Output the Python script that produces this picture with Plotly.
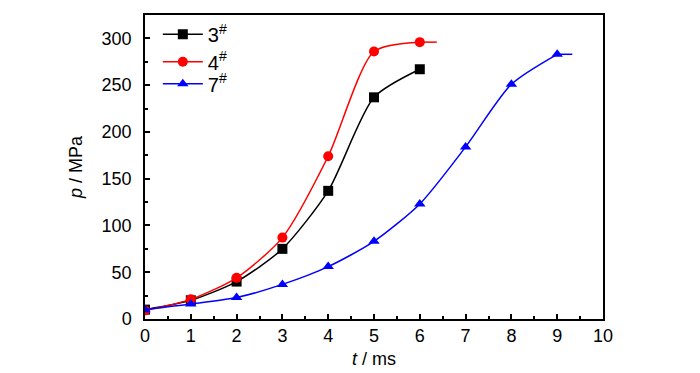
import plotly.graph_objects as go

t_markers = [0, 1, 2, 3, 4, 5, 6]
p3 = [10, 20, 40, 75, 137, 237, 267]
p4 = [9, 21, 44, 87, 174, 286, 296]
t7 = [0, 1, 2, 3, 4, 5, 6, 7, 8, 9]
p7 = [10, 16, 23, 37, 56, 83, 123, 184, 251, 283]

# end of each curve (line continues flat after the last marker)
t3_end = 6.0
t4_end = 6.37
t7_end = 9.33

names = ["3<sup>#</sup>", "4<sup>#</sup>", "7<sup>#</sup>"]
colors = ["#000000", "#ff0000", "#0000ff"]
symbols = ["square", "circle", "triangle-up"]
legend_ids = ["legend", "legend2", "legend3"]
legend_y = [0.937, 0.846, 0.774]

series = [
    (t_markers, p3, t3_end),
    (t_markers, p4, t4_end),
    (t7, p7, t7_end),
]

fig = go.Figure()
for (tx, py, te), name, col, sym, lid in zip(series, names, colors, symbols, legend_ids):
    fig.add_trace(go.Scatter(x=tx, y=py, mode="lines+markers", name=name, legend=lid,
                             line=dict(color=col, width=1.5, shape="spline", smoothing=0.7),
                             marker=dict(symbol=sym, size=10, color=col)))
    if te > tx[-1]:
        fig.add_trace(go.Scatter(x=[tx[-1], te], y=[py[-1], py[-1]], mode="lines",
                                 line=dict(color=col, width=1.5), showlegend=False,
                                 hoverinfo="skip"))

axis_common = dict(showline=True, linecolor="black", linewidth=1.5, mirror=True,
                   ticks="inside", ticklen=5, tickwidth=1.5, tickcolor="black",
                   showgrid=False, zeroline=False,
                   tickfont=dict(family="Liberation Sans, Arial", size=18, color="black"))

leg_common = dict(x=0.028, xanchor="left", yanchor="middle", bgcolor="rgba(0,0,0,0)",
                  font=dict(size=20), itemwidth=40)

fig.update_layout(
    width=692, height=365,
    margin=dict(l=137, r=97, t=5, b=54),
    paper_bgcolor="white", plot_bgcolor="white",
    font=dict(family="Liberation Sans, Arial", color="black"),
    xaxis=dict(range=[0, 10], dtick=1,
               minor=dict(dtick=0.5, ticks="inside", ticklen=3, tickwidth=1.5, tickcolor="black"),
               title=dict(text="<i>t</i> / ms", font=dict(size=18), standoff=7),
               **axis_common),
    yaxis=dict(range=[0, 325], dtick=50,
               minor=dict(dtick=25, ticks="inside", ticklen=3, tickwidth=1.5, tickcolor="black"),
               title=dict(text="<i>p</i> / MPa", font=dict(size=18), standoff=14),
               ticklabelstandoff=8,
               **axis_common),
    showlegend=True,
    legend=dict(y=legend_y[0], **leg_common),
    legend2=dict(y=legend_y[1], **leg_common),
    legend3=dict(y=legend_y[2], **leg_common),
)

fig.write_html("out.html")
